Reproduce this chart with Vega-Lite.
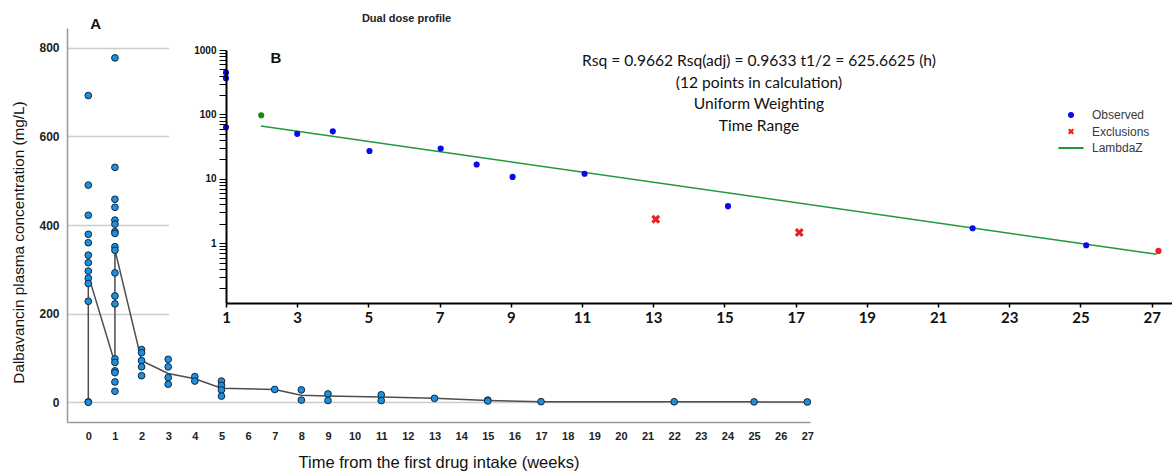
{
  "$schema": "https://vega.github.io/schema/vega-lite/v6.json",
  "width": 743,
  "height": 394,
  "autosize": {"type": "none"},
  "padding": {"left": 67, "top": 28, "right": 362, "bottom": 50},
  "background": "white",
  "config": {"view": {"stroke": null}, "font": "Liberation Sans"},
  "datasets": {
    "main": [
      {"week": 0, "conc": 692}, {"week": 0, "conc": 490}, {"week": 0, "conc": 422}, {"week": 0, "conc": 379},
      {"week": 0, "conc": 360}, {"week": 0, "conc": 332}, {"week": 0, "conc": 315}, {"week": 0, "conc": 296},
      {"week": 0, "conc": 280}, {"week": 0, "conc": 268}, {"week": 0, "conc": 228}, {"week": 0, "conc": 1},
      {"week": 0, "conc": 0},
      {"week": 1, "conc": 777}, {"week": 1, "conc": 530}, {"week": 1, "conc": 458}, {"week": 1, "conc": 440},
      {"week": 1, "conc": 411}, {"week": 1, "conc": 402}, {"week": 1, "conc": 385}, {"week": 1, "conc": 381},
      {"week": 1, "conc": 351}, {"week": 1, "conc": 343}, {"week": 1, "conc": 292}, {"week": 1, "conc": 240},
      {"week": 1, "conc": 222}, {"week": 1, "conc": 98}, {"week": 1, "conc": 90}, {"week": 1, "conc": 71},
      {"week": 1, "conc": 67}, {"week": 1, "conc": 46}, {"week": 1, "conc": 25},
      {"week": 2, "conc": 119}, {"week": 2, "conc": 112}, {"week": 2, "conc": 94}, {"week": 2, "conc": 80},
      {"week": 2, "conc": 60},
      {"week": 3, "conc": 97}, {"week": 3, "conc": 80}, {"week": 3, "conc": 56}, {"week": 3, "conc": 41},
      {"week": 4, "conc": 58}, {"week": 4, "conc": 48},
      {"week": 5, "conc": 48}, {"week": 5, "conc": 38}, {"week": 5, "conc": 28}, {"week": 5, "conc": 14},
      {"week": 7, "conc": 29},
      {"week": 8, "conc": 28}, {"week": 8, "conc": 5},
      {"week": 9, "conc": 19}, {"week": 9, "conc": 4},
      {"week": 11, "conc": 17}, {"week": 11, "conc": 4},
      {"week": 13, "conc": 9},
      {"week": 15, "conc": 5}, {"week": 15, "conc": 3},
      {"week": 17, "conc": 1.5},
      {"week": 22, "conc": 1.2},
      {"week": 25, "conc": 1},
      {"week": 27, "conc": 0.8}
    ],
    "trend": [
      {"i": 1, "week": 0, "conc": 0}, {"i": 2, "week": 0, "conc": 287}, {"i": 3, "week": 1, "conc": 88},
      {"i": 4, "week": 1, "conc": 344}, {"i": 5, "week": 2, "conc": 94}, {"i": 6, "week": 3, "conc": 65},
      {"i": 7, "week": 4, "conc": 53}, {"i": 8, "week": 5, "conc": 32}, {"i": 9, "week": 7, "conc": 29},
      {"i": 10, "week": 8, "conc": 16}, {"i": 11, "week": 9, "conc": 14}, {"i": 12, "week": 11, "conc": 12},
      {"i": 13, "week": 13, "conc": 9}, {"i": 14, "week": 15, "conc": 4}, {"i": 15, "week": 17, "conc": 1.5},
      {"i": 16, "week": 22, "conc": 1.3}, {"i": 17, "week": 25, "conc": 1}, {"i": 18, "week": 27, "conc": 0.8}
    ],
    "profile": [
      {"week": 1, "conc": 445, "type": "Observed"}, {"week": 1, "conc": 365, "type": "Observed"},
      {"week": 1, "conc": 63, "type": "Observed"}, {"week": 3, "conc": 50, "type": "Observed"},
      {"week": 4, "conc": 54.6, "type": "Observed"}, {"week": 5.03, "conc": 27, "type": "Observed"},
      {"week": 7.03, "conc": 29.6, "type": "Observed"}, {"week": 8.04, "conc": 16.7, "type": "Observed"},
      {"week": 9.05, "conc": 10.7, "type": "Observed"}, {"week": 11.07, "conc": 12, "type": "Observed"},
      {"week": 15.1, "conc": 3.76, "type": "Observed"}, {"week": 21.97, "conc": 1.71, "type": "Observed"},
      {"week": 25.16, "conc": 0.93, "type": "Observed"},
      {"week": 13.07, "conc": 2.36, "type": "Exclusions"}, {"week": 17.1, "conc": 1.47, "type": "Exclusions"},
      {"week": 1.99, "conc": 97, "type": "First"}, {"week": 27.19, "conc": 0.76, "type": "Last"}
    ],
    "fit": [
      {"week": 1.98, "conc": 66, "type": "LambdaZ"}, {"week": 27.14, "conc": 0.673, "type": "LambdaZ"}
    ]
  },
  "layer": [
    {
      "layer": [
        {
          "data": {"name": "trend"},
          "mark": {"type": "line", "color": "#4d4d4d", "strokeWidth": 1.5},
          "encoding": {
            "x": {"field": "week", "type": "quantitative",
              "scale": {"domain": [-0.8, 27.1], "nice": false, "zero": false},
              "axis": {"orient": "bottom", "title": "Time from the first drug intake (weeks)",
                "values": [0,1,2,3,4,5,6,7,8,9,10,11,12,13,14,15,16,17,18,19,20,21,22,23,24,25,26,27],
                "format": "d", "grid": false, "ticks": false, "domainColor": "#999999", "domainWidth": 1.5,
                "labelFont": "Liberation Sans", "labelFontWeight": "bold", "labelFontSize": 11, "labelColor": "#222222",
                "labelPadding": 8, "labelFlush": false, "labelOverlap": false,
                "titleFont": "Liberation Sans", "titleFontSize": 16.5, "titleFontWeight": "normal", "titleColor": "#111111",
                "titlePadding": 13}},
            "y": {"field": "conc", "type": "quantitative",
              "scale": {"domain": [-44.4, 844.4], "nice": false, "zero": false},
              "axis": {"orient": "left", "title": "Dalbavancin plasma concentration (mg/L)",
                "values": [0, 200, 400, 600, 800], "grid": true, "gridColor": "#cccccc", "gridWidth": 1.5,
                "ticks": false, "domainColor": "#999999", "domainWidth": 1.5,
                "labelFont": "Liberation Sans", "labelFontWeight": "bold", "labelFontSize": 12, "labelColor": "#222222",
                "labelPadding": 8,
                "titleFont": "Liberation Sans", "titleFontSize": 15.3, "titleFontWeight": "normal", "titleColor": "#111111",
                "titleX": -49, "titleY": 214, "titleAngle": 270, "titleAlign": "center", "titleBaseline": "middle"}},
            "order": {"field": "i", "type": "quantitative"}
          }
        },
        {
          "data": {"name": "main"},
          "mark": {"type": "point", "filled": true, "size": 45, "color": "#1f8fdb", "stroke": "#0d2a45", "strokeWidth": 1, "opacity": 1},
          "encoding": {
            "x": {"field": "week", "type": "quantitative",
              "scale": {"domain": [-0.8, 27.1], "nice": false, "zero": false},
              "axis": {"orient": "bottom", "title": "Time from the first drug intake (weeks)",
                "values": [0,1,2,3,4,5,6,7,8,9,10,11,12,13,14,15,16,17,18,19,20,21,22,23,24,25,26,27],
                "format": "d", "grid": false, "ticks": false, "domainColor": "#999999", "domainWidth": 1.5,
                "labelFont": "Liberation Sans", "labelFontWeight": "bold", "labelFontSize": 11, "labelColor": "#222222",
                "labelPadding": 8, "labelFlush": false, "labelOverlap": false,
                "titleFont": "Liberation Sans", "titleFontSize": 16.5, "titleFontWeight": "normal", "titleColor": "#111111",
                "titlePadding": 13}},
            "y": {"field": "conc", "type": "quantitative",
              "scale": {"domain": [-44.4, 844.4], "nice": false, "zero": false},
              "axis": {"orient": "left", "title": "Dalbavancin plasma concentration (mg/L)",
                "values": [0, 200, 400, 600, 800], "grid": true, "gridColor": "#cccccc", "gridWidth": 1.5,
                "ticks": false, "domainColor": "#999999", "domainWidth": 1.5,
                "labelFont": "Liberation Sans", "labelFontWeight": "bold", "labelFontSize": 12, "labelColor": "#222222",
                "labelPadding": 8,
                "titleFont": "Liberation Sans", "titleFontSize": 15.3, "titleFontWeight": "normal", "titleColor": "#111111",
                "titleX": -49, "titleY": 214, "titleAngle": 270, "titleAlign": "center", "titleBaseline": "middle"}}
          }
        },
        {
          "data": {"values": [{}]},
          "mark": {"type": "text", "text": "A", "font": "Liberation Sans", "fontWeight": "bold", "fontSize": 15, "color": "#111111"},
          "encoding": {
            "x": {"datum": 0.28, "type": "quantitative",
              "scale": {"domain": [-0.8, 27.1], "nice": false, "zero": false},
              "axis": {"orient": "bottom", "title": "Time from the first drug intake (weeks)",
                "values": [0,1,2,3,4,5,6,7,8,9,10,11,12,13,14,15,16,17,18,19,20,21,22,23,24,25,26,27],
                "format": "d", "grid": false, "ticks": false, "domainColor": "#999999", "domainWidth": 1.5,
                "labelFont": "Liberation Sans", "labelFontWeight": "bold", "labelFontSize": 11, "labelColor": "#222222",
                "labelPadding": 8, "labelFlush": false, "labelOverlap": false,
                "titleFont": "Liberation Sans", "titleFontSize": 16.5, "titleFontWeight": "normal", "titleColor": "#111111",
                "titlePadding": 13}},
            "y": {"datum": 853, "type": "quantitative",
              "scale": {"domain": [-44.4, 844.4], "nice": false, "zero": false},
              "axis": {"orient": "left", "title": "Dalbavancin plasma concentration (mg/L)",
                "values": [0, 200, 400, 600, 800], "grid": true, "gridColor": "#cccccc", "gridWidth": 1.5,
                "ticks": false, "domainColor": "#999999", "domainWidth": 1.5,
                "labelFont": "Liberation Sans", "labelFontWeight": "bold", "labelFontSize": 12, "labelColor": "#222222",
                "labelPadding": 8,
                "titleFont": "Liberation Sans", "titleFontSize": 15.3, "titleFontWeight": "normal", "titleColor": "#111111",
                "titleX": -49, "titleY": 214, "titleAngle": 270, "titleAlign": "center", "titleBaseline": "middle"}}
          }
        }
      ]
    },
    {
      "layer": [
        {
          "data": {"values": [{}]},
          "mark": {"type": "rect", "color": "white"},
          "encoding": {
            "x": {"datum": -0.6, "type": "quantitative",
              "scale": {"domain": [1, 27.57], "range": [159, 1105], "nice": false, "zero": false},
              "axis": {"orient": "bottom", "offset": -119, "title": null,
                "values": [1,3,5,7,9,11,13,15,17,19,21,23,25,27], "format": "d", "grid": false,
                "domainColor": "black", "domainWidth": 2, "tickColor": "black", "tickSize": 4, "tickWidth": 1.5,
                "labelFont": "Lato", "labelFontWeight": "bold", "labelFontSize": 15, "labelColor": "#111111",
                "labelPadding": 3, "labelFlush": false, "labelOverlap": false, "zindex": 1}},
            "x2": {"datum": 27.7},
            "y": {"datum": 0.037, "type": "quantitative",
              "scale": {"type": "log", "domain": [0.118, 1000], "range": [275, 22], "nice": false},
              "axis": {"orient": "left", "offset": -159, "title": null,
                "values": [0.2,0.3,0.4,0.5,0.6,0.7,0.8,0.9,1,2,3,4,5,6,7,8,9,10,20,30,40,50,60,70,80,90,100,200,300,400,500,600,700,800,900,1000],
                "labelExpr": "indexof([1,10,100,1000], datum.value) >= 0 ? '' + datum.value : ''",
                "grid": false, "domainColor": "black", "domainWidth": 2, "tickColor": "black", "tickSize": 7, "tickWidth": 1,
                "labelFont": "Liberation Sans", "labelFontWeight": "bold", "labelFontSize": 10, "labelColor": "#111111",
                "labelPadding": 3, "labelOverlap": false, "labelFlush": false, "zindex": 1}},
            "y2": {"datum": 6000}
          }
        },
        {
          "data": {"name": "fit"},
          "mark": {"type": "line", "strokeWidth": 1.5},
          "encoding": {
            "x": {"field": "week", "type": "quantitative", "scale": {"domain": [1, 27.57], "range": [159, 1105], "nice": false, "zero": false}},
            "y": {"field": "conc", "type": "quantitative", "scale": {"type": "log", "domain": [0.118, 1000], "range": [275, 22], "nice": false}},
            "color": {"field": "type", "type": "nominal",
              "scale": {"domain": ["Observed", "Exclusions", "LambdaZ"], "range": ["#0a0aef", "#ee1c1c", "#1f9a3a"]},
              "legend": {"orient": "none", "legendX": 998, "legendY": 81, "title": null, "labelFont": "Liberation Sans",
                "labelFontSize": 12, "labelColor": "#3a3a3a", "labelOffset": 15, "symbolSize": 36, "rowPadding": 4.5, "padding": 0,
                "encode": {"symbols": {"update": {"stroke": {"scale": "color", "field": "value"}, "strokeWidth": {"signal": "datum.value === 'LambdaZ' ? 2 : 0"}}}}}}
          }
        },
        {
          "data": {"name": "profile"},
          "transform": [{"filter": "datum.type === 'Observed' || datum.type === 'Exclusions'"}],
          "mark": {"type": "point", "filled": true, "opacity": 1},
          "encoding": {
            "x": {"field": "week", "type": "quantitative", "scale": {"domain": [1, 27.57], "range": [159, 1105], "nice": false, "zero": false}},
            "y": {"field": "conc", "type": "quantitative", "scale": {"type": "log", "domain": [0.118, 1000], "range": [275, 22], "nice": false}},
            "color": {"field": "type", "type": "nominal",
              "scale": {"domain": ["Observed", "Exclusions", "LambdaZ"], "range": ["#0a0aef", "#ee1c1c", "#1f9a3a"]},
              "legend": {"orient": "none", "legendX": 998, "legendY": 81, "title": null, "labelFont": "Liberation Sans",
                "labelFontSize": 12, "labelColor": "#3a3a3a", "labelOffset": 15, "symbolSize": 36, "rowPadding": 4.5, "padding": 0,
                "encode": {"symbols": {"update": {"stroke": {"scale": "color", "field": "value"}, "strokeWidth": {"signal": "datum.value === 'LambdaZ' ? 2 : 0"}}}}}},
            "shape": {"field": "type", "type": "nominal",
              "scale": {"domain": ["Observed", "Exclusions", "LambdaZ"], "range": ["circle", "M-1,-0.5L-0.5,-1L0,-0.5L0.5,-1L1,-0.5L0.5,0L1,0.5L0.5,1L0,0.5L-0.5,1L-1,0.5L-0.5,0Z", "M-4.2,0L4.2,0"]},
              "legend": {"orient": "none", "legendX": 998, "legendY": 81, "title": null, "labelFont": "Liberation Sans",
                "labelFontSize": 12, "labelColor": "#3a3a3a", "labelOffset": 15, "symbolSize": 36, "rowPadding": 4.5, "padding": 0,
                "encode": {"symbols": {"update": {"stroke": {"scale": "color", "field": "value"}, "strokeWidth": {"signal": "datum.value === 'LambdaZ' ? 2 : 0"}}}}}},
            "size": {"condition": {"test": "datum.type === 'Exclusions'", "value": 80}, "value": 38}
          }
        },
        {
          "data": {"name": "profile"},
          "transform": [{"filter": "datum.type === 'First' || datum.type === 'Last'"}],
          "mark": {"type": "point", "filled": true, "opacity": 1, "size": 38, "shape": "circle"},
          "encoding": {
            "x": {"field": "week", "type": "quantitative", "scale": {"domain": [1, 27.57], "range": [159, 1105], "nice": false, "zero": false}},
            "y": {"field": "conc", "type": "quantitative", "scale": {"type": "log", "domain": [0.118, 1000], "range": [275, 22], "nice": false}},
            "color": {"condition": {"test": "datum.type === 'First'", "value": "#138a13"}, "value": "#ee2222"}
          }
        },
        {
          "data": {"values": [{}]},
          "mark": {"type": "text", "text": "B", "font": "Liberation Sans", "fontWeight": "bold", "fontSize": 15, "color": "#111111"},
          "encoding": {
            "x": {"datum": 2.4, "type": "quantitative", "scale": {"domain": [1, 27.57], "range": [159, 1105], "nice": false, "zero": false}},
            "y": {"datum": 751, "type": "quantitative", "scale": {"type": "log", "domain": [0.118, 1000], "range": [275, 22], "nice": false}}
          }
        },
        {
          "data": {"values": [{}]},
          "mark": {"type": "text", "text": "Dual dose profile", "font": "Liberation Sans", "fontWeight": "bold", "fontSize": 11, "color": "#222222"},
          "encoding": {
            "x": {"datum": 6.07, "type": "quantitative", "scale": {"domain": [1, 27.57], "range": [159, 1105], "nice": false, "zero": false}},
            "y": {"datum": 3030, "type": "quantitative", "scale": {"type": "log", "domain": [0.118, 1000], "range": [275, 22], "nice": false}}
          }
        },
        {
          "data": {"values": [{}]},
          "mark": {"type": "text", "text": ["Rsq = 0.9662 Rsq(adj) = 0.9633 t1/2 = 625.6625 (h)", "(12 points in calculation)", "Uniform Weighting", "Time Range"],
            "font": "Lato", "fontSize": 15.6, "lineHeight": 21.5, "color": "#111111", "align": "center", "baseline": "middle"},
          "encoding": {
            "x": {"datum": 15.97, "type": "quantitative", "scale": {"domain": [1, 27.57], "range": [159, 1105], "nice": false, "zero": false}},
            "y": {"datum": 674, "type": "quantitative", "scale": {"type": "log", "domain": [0.118, 1000], "range": [275, 22], "nice": false}}
          }
        }
      ]
    }
  ],
  "resolve": {"scale": {"x": "independent", "y": "independent"}, "axis": {"x": "independent", "y": "independent"}}
}
